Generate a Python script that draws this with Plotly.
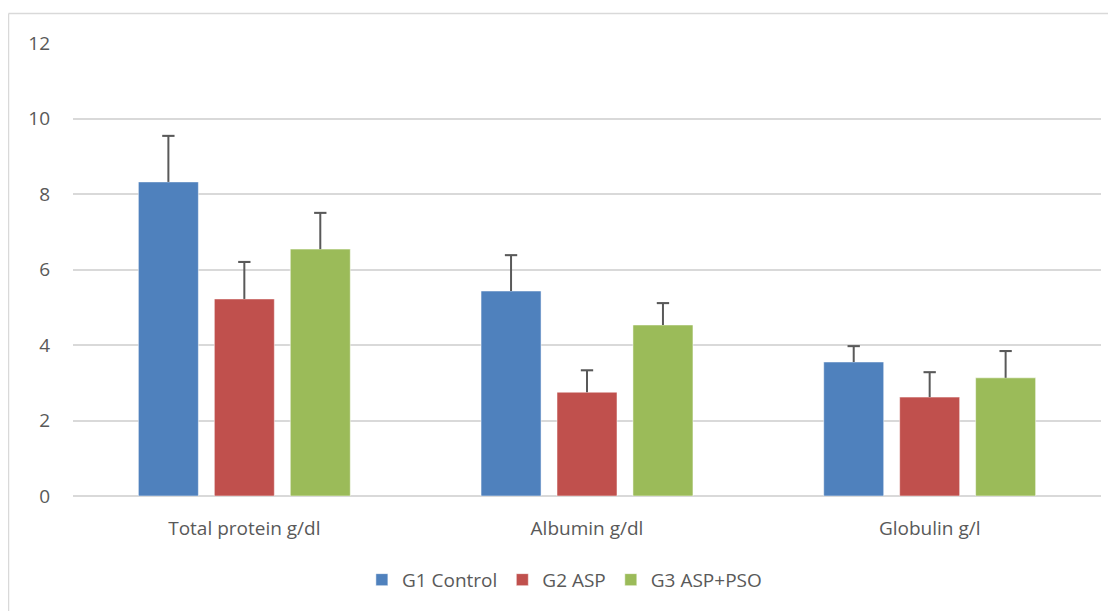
import plotly.graph_objects as go

categories = ["Total protein g/dl", "Albumin g/dl", "Globulin g/l"]
series_names = ["G1 Control", "G2 ASP", "G3 ASP+PSO"]
g1_values = [8.32, 5.43, 3.55]
g1_errors = [1.22, 0.95, 0.42]
g2_values = [5.22, 2.75, 2.62]
g2_errors = [0.98, 0.58, 0.66]
g3_values = [6.54, 4.53, 3.13]
g3_errors = [0.96, 0.58, 0.71]
colors = ["#4F81BD", "#C0504D", "#9BBB59"]

ERR_COLOR = "#595959"
CAP_H = 0.055   # cap thickness in data units (~2px)
CAP_W = 0.036   # cap width in category units (~12px)

fig = go.Figure()
for name, vals, errs, col in zip(series_names, [g1_values, g2_values, g3_values],
                                 [g1_errors, g2_errors, g3_errors], colors):
    fig.add_trace(go.Bar(
        x=categories, y=vals, name=name, offsetgroup=name,
        marker=dict(color=col, line=dict(color="rgba(255,255,255,0.5)", width=1)),
        error_y=dict(type="data", symmetric=False, array=errs, arrayminus=[0]*len(errs),
                     color=ERR_COLOR, thickness=2, width=0),
    ))
for name, vals, errs in zip(series_names, [g1_values, g2_values, g3_values],
                            [g1_errors, g2_errors, g3_errors]):
    tops = [v + e for v, e in zip(vals, errs)]
    fig.add_trace(go.Bar(
        x=categories, y=[CAP_H]*len(tops), base=[t - CAP_H/2 for t in tops],
        offsetgroup=name, width=CAP_W, showlegend=False, hoverinfo="skip",
        marker=dict(color=ERR_COLOR, line=dict(width=0)),
    ))

fig.update_layout(
    width=1116, height=611,
    margin=dict(l=65, r=23, t=35, b=123),
    paper_bgcolor="white", plot_bgcolor="white",
    barmode="group", bargap=0.335, bargroupgap=0.21,
    font=dict(family="Open Sans, Liberation Sans, sans-serif", size=19, color="#595959"),
    showlegend=True,
    legend=dict(orientation="h", x=0.478, xanchor="center", y=-0.185, yanchor="middle",
                font=dict(size=19, color="#595959"), itemwidth=30, traceorder="normal"),
    xaxis=dict(showgrid=False, showline=False, ticks="", ticklabelstandoff=19,
               tickfont=dict(size=19, color="#595959")),
    yaxis=dict(range=[0, 12], dtick=2, showgrid=True, gridcolor="#D9D9D9", gridwidth=1.5,
               zeroline=True, zerolinecolor="#D9D9D9", zerolinewidth=1.5,
               showline=False, ticks="", ticklabelstandoff=22,
               tickfont=dict(size=19, color="#595959")),
    shapes=[
        dict(type="line", xref="paper", yref="paper",
             x0=(0.5-65)/1028, x1=(1116-65)/1028, y0=(488-5.5)/453, y1=(488-5.5)/453,
             line=dict(color="#D9D9D9", width=1.5)),
        dict(type="line", xref="paper", yref="paper",
             x0=(0.5-65)/1028, x1=(0.5-65)/1028, y0=(488-5.5)/453, y1=(488-620)/453,
             line=dict(color="#D9D9D9", width=1.5)),
    ],
)

fig.write_html("out.html")
